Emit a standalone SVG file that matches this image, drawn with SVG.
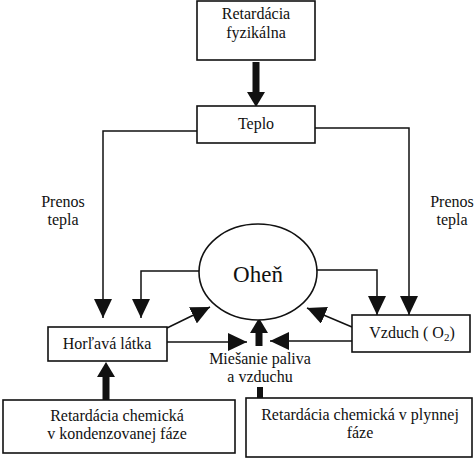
<svg xmlns="http://www.w3.org/2000/svg" width="474" height="458" viewBox="0 0 474 458">
<style>
.box{fill:#fff;stroke:#111;stroke-width:1.6}
text{font-family:'Liberation Serif','DejaVu Serif',serif;font-size:16px;fill:#111;text-anchor:middle}
.big{font-size:23px}
.ln{fill:none;stroke:#111;stroke-width:1.5}
.thick{fill:none;stroke:#111;stroke-width:7}
</style>
<defs>
<marker id="ah" markerUnits="userSpaceOnUse" markerWidth="20" markerHeight="18" refX="19" refY="9" orient="auto">
<path d="M0,0 L19,9 L0,18 z" fill="#111"/>
</marker>
<marker id="th" markerUnits="userSpaceOnUse" markerWidth="15" markerHeight="18" refX="0" refY="9" orient="auto">
<path d="M0,0 L15,9 L0,18 z" fill="#111"/>
</marker>
</defs>
<rect width="474" height="458" fill="#fff"/>
<g id="connectors">
<path class="thick" d="M256,62 V92" marker-end="url(#th)"/>
<path class="ln" d="M197,131 H103 V318" marker-end="url(#ah)"/>
<path class="ln" d="M315,128 H409 V315" marker-end="url(#ah)"/>
<path class="ln" d="M200,271 H141 V318" marker-end="url(#ah)"/>
<path class="ln" d="M316,270 H377 V315" marker-end="url(#ah)"/>
<path class="ln" d="M167,328 L210,307" marker-end="url(#ah)"/>
<path class="ln" d="M167,342 H247" marker-end="url(#ah)"/>
<path class="ln" d="M352,341 H270" marker-end="url(#ah)"/>
<path class="ln" d="M352,327 L307,308" marker-end="url(#ah)"/>
<path class="thick" d="M259,346 V333" marker-end="url(#th)"/>
<path class="thick" d="M106,400 V377" marker-end="url(#th)"/>
<rect x="257" y="387" width="6" height="11" fill="#111"/>
</g>
<g id="retardacia-fyzikalna" font-family="Liberation Serif, serif">
<rect class="box" x="197" y="1" width="118" height="59"/>
<text x="256" y="19">Retardácia</text>
<text x="256" y="38">fyzikálna</text>
</g>
<g id="teplo">
<rect class="box" x="197" y="106" width="118" height="37"/>
<text x="256" y="129">Teplo</text>
</g>
<g id="prenos-tepla-left">
<text x="63" y="207">Prenos</text>
<text x="63" y="225">tepla</text>
</g>
<g id="prenos-tepla-right">
<text x="452" y="207">Prenos</text>
<text x="452" y="225">tepla</text>
</g>
<g id="ohen">
<ellipse class="box" cx="258" cy="272" rx="59" ry="48"/>
<text class="big" x="258" y="282">Oheň</text>
</g>
<g id="horlava-latka">
<rect class="box" x="48" y="327" width="119" height="34"/>
<text x="107" y="349">Horľavá látka</text>
</g>
<g id="vzduch">
<rect class="box" x="352" y="315" width="118" height="37"/>
<text x="412" y="338">Vzduch ( O<tspan font-size="11" dy="3">2</tspan><tspan dy="-3">)</tspan></text>
</g>
<g id="miesanie">
<text x="260" y="364">Miešanie paliva</text>
<text x="260" y="382">a vzduchu</text>
</g>
<g id="retardacia-kondenzovana">
<rect class="box" x="3" y="400" width="232" height="53"/>
<text x="117" y="421">Retardácia chemická</text>
<text x="117" y="439">v kondenzovanej fáze</text>
</g>
<g id="retardacia-plynna">
<rect class="box" x="246" y="398" width="226" height="59"/>
<text x="360" y="420">Retardácia chemická v plynnej</text>
<text x="360" y="438">fáze</text>
</g>
</svg>
